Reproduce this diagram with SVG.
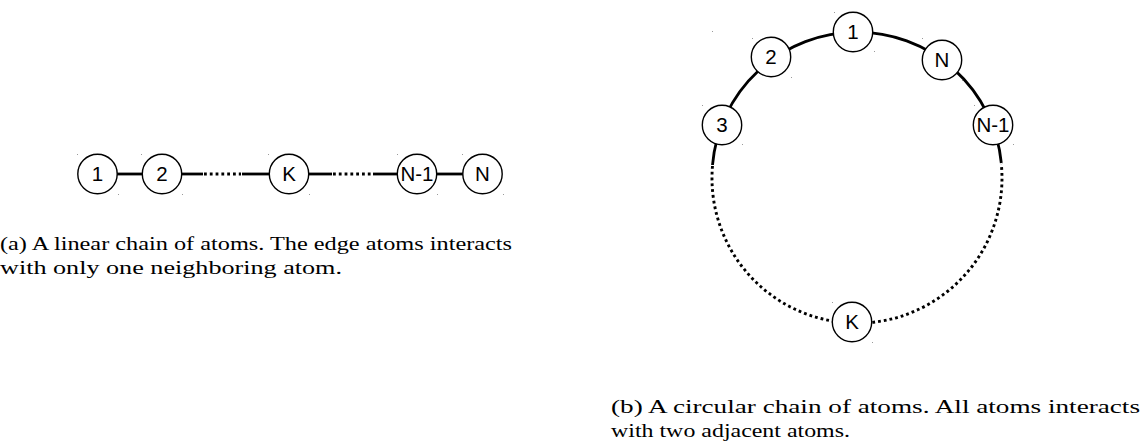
<svg xmlns="http://www.w3.org/2000/svg" width="1141" height="444" viewBox="0 0 1141 444">
<style>
.atom circle{fill:#fff;stroke:#000;stroke-width:1.4}
.atom text{font-family:"Liberation Sans",Arial,sans-serif;font-size:20.5px;text-anchor:middle;fill:#000}
.bond{stroke:#000;stroke-width:2.8;fill:none}
.dot{stroke:#000;stroke-width:2.9;fill:none;stroke-dasharray:2.8 3}
.cap{font-family:"Liberation Serif","Times New Roman",serif;font-size:19.5px;fill:#000}
.mk{fill:#9a9a9a}
</style>
<rect width="1141" height="444" fill="#fff"/>
<g id="connectors">
<line class="bond" x1="117" y1="174" x2="143" y2="174"/>
<line class="bond" x1="181" y1="174" x2="203" y2="174"/>
<line class="dot" x1="204" y1="174" x2="241" y2="174"/>
<line class="bond" x1="242" y1="174" x2="270" y2="174"/>
<line class="bond" x1="308" y1="174" x2="332" y2="174"/>
<line class="dot" x1="333" y1="174" x2="372" y2="174"/>
<line class="bond" x1="373" y1="174" x2="398" y2="174"/>
<line class="bond" x1="436" y1="174" x2="464" y2="174"/>
<path class="bond" d="M 712.5 165 A 145 145 0 0 1 1001.3 163"/>
<path class="dot" d="M 712.5 166 A 145 145 0 1 0 1001.3 164"/>
</g>
<g id="node-lin-1" class="atom"><circle cx="97.5" cy="174" r="19.7"/><text x="97.5" y="181.3">1</text></g>
<g id="node-lin-2" class="atom"><circle cx="162" cy="174" r="19.7"/><text x="162" y="181.3">2</text></g>
<g id="node-lin-K" class="atom"><circle cx="289" cy="174" r="19.7"/><text x="289" y="181.3">K</text></g>
<g id="node-lin-N1" class="atom"><circle cx="417" cy="174" r="19.7"/><text x="417" y="181.3">N-1</text></g>
<g id="node-lin-N" class="atom"><circle cx="482.5" cy="174" r="19.7"/><text x="482.5" y="181.3">N</text></g>
<g id="node-ring-1" class="atom"><circle cx="853" cy="32" r="19.7"/><text x="853" y="39.3">1</text></g>
<g id="node-ring-2" class="atom"><circle cx="771" cy="57" r="19.7"/><text x="771" y="64.3">2</text></g>
<g id="node-ring-3" class="atom"><circle cx="722" cy="125" r="19.7"/><text x="722" y="132.3">3</text></g>
<g id="node-ring-N" class="atom"><circle cx="942" cy="60" r="19.7"/><text x="942" y="67.3">N</text></g>
<g id="node-ring-N1" class="atom"><circle cx="993" cy="125" r="19.7"/><text x="993" y="132.3">N-1</text></g>
<g id="node-ring-K" class="atom"><circle cx="852" cy="322" r="19.7"/><text x="852" y="329.3">K</text></g>
<g id="marks">
<rect class="mk" x="77" y="154" width="1" height="1"/><rect class="mk" x="118" y="194" width="1" height="1"/>
<rect class="mk" x="141" y="154" width="1" height="1"/><rect class="mk" x="182" y="194" width="1" height="1"/>
<rect class="mk" x="268" y="154" width="1" height="1"/><rect class="mk" x="309" y="194" width="1" height="1"/>
<rect class="mk" x="397" y="154" width="1" height="1"/><rect class="mk" x="437" y="194" width="1" height="1"/>
<rect class="mk" x="462" y="154" width="1" height="1"/><rect class="mk" x="503" y="194" width="1" height="1"/>
<rect class="mk" x="712" y="31" width="1" height="1"/>
<rect class="mk" x="834" y="12" width="1" height="1"/><rect class="mk" x="874" y="51" width="1" height="1"/>
<rect class="mk" x="752" y="38" width="1" height="1"/><rect class="mk" x="791" y="77" width="1" height="1"/>
<rect class="mk" x="702" y="105" width="1" height="1"/><rect class="mk" x="742" y="144" width="1" height="1"/>
<rect class="mk" x="922" y="38" width="1" height="1"/><rect class="mk" x="962" y="80" width="1" height="1"/>
<rect class="mk" x="974" y="105" width="1" height="1"/><rect class="mk" x="1013" y="144" width="1" height="1"/>
<rect class="mk" x="832" y="302" width="1" height="1"/><rect class="mk" x="872" y="342" width="1" height="1"/>
</g>
<g id="captions">
<text class="cap" x="0" y="250" textLength="512" lengthAdjust="spacingAndGlyphs">(a) A linear chain of atoms.  The edge atoms interacts</text>
<text class="cap" x="0" y="274" textLength="342" lengthAdjust="spacingAndGlyphs">with only one neighboring atom.</text>
<text class="cap" x="611" y="413" textLength="529" lengthAdjust="spacingAndGlyphs">(b) A circular chain of atoms.  All atoms interacts</text>
<text class="cap" x="611" y="437" textLength="239" lengthAdjust="spacingAndGlyphs">with two adjacent atoms.</text>
</g>
</svg>
